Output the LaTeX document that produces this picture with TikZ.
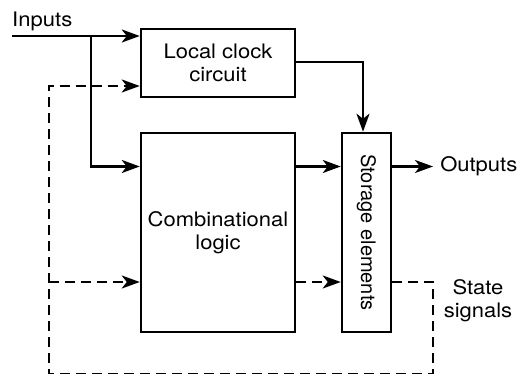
\documentclass[tikz,border=0pt]{standalone}
\usepackage{fontspec}
\setmainfont{TeX Gyre Heros}[FakeStretch=1.1]
\newfontfamily\rotfont{TeX Gyre Heros}
\usetikzlibrary{arrows.meta}
\begin{document}
\begin{tikzpicture}[x=1pt,y=-1pt,
  line width=2.5pt,
  box/.style={draw, line width=2.5pt, inner sep=0pt},
  arr/.style={-{Stealth[length=18pt,width=13pt,inset=5pt]}},
  dsh/.style={dash pattern=on 10pt off 6pt},
  lbl/.style={font=\fontsize{20}{23}\selectfont, inner sep=0pt, align=center}]
\useasboundingbox (0,0) rectangle (517,374);
\clip (0,0) rectangle (517,374);
% boxes
\node[box, lbl, minimum width=154pt, minimum height=68pt] (clock) at (218,63) {Local clock\\circuit};
\node[box, lbl, minimum width=154pt, minimum height=199pt] (comb) at (218,232.5) {Combinational\\logic};
\node[box, minimum width=49pt, minimum height=199pt] (store) at (366.5,232.5) {};
\node[lbl, rotate=-90, font=\rotfont\fontsize{20}{23}\selectfont] (storetxt) at (store.center) {Storage elements};
% labels
\node[lbl, anchor=base west] (inlab) at (11,27) {Inputs};
\node[lbl, anchor=west] (outlab) at (439,166.5) {Outputs};
\node[lbl] (statelab) at (478,301) {State\\signals};
% coordinates
\coordinate (inS) at (12,36);
\coordinate (inJ) at (91,36);
\coordinate (dataY) at (0,166.5);
\coordinate (clkY) at (0,62);
\coordinate (clkX) at (363,0);
\coordinate (outT) at (433,166.5);
\coordinate (stY) at (0,282);
\coordinate (fbL) at (49,374.3);
\coordinate (fbR) at (433,374.3);
\coordinate (fbJ) at (49,282);
\coordinate (fbY) at (0,86);
% solid connectors
\draw[arr] (inS) -- (inS -| clock.west);
\draw[arr] (inJ) |- (comb.west |- dataY);
\draw[arr] (comb.east |- dataY) -- (store.west |- dataY);
\draw[arr] (store.east |- dataY) -- (outT);
\draw[arr] (clock.east |- clkY) -| (store.north -| clkX);
% dashed state connectors
\draw[dsh, arr] (store.east |- stY) -| (fbR) -- (fbL) |- (clock.west |- fbY);
\draw[dsh, arr] (fbJ) -- (comb.west |- stY);
\draw[dsh, arr] (comb.east |- stY) -- (store.west |- stY);
\end{tikzpicture}
\end{document}
